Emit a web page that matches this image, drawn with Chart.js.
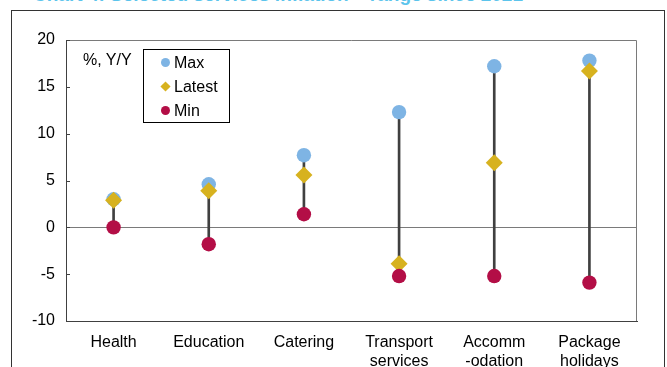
<!DOCTYPE html>
<html lang="en">
<head>
    <meta charset="UTF-8">
    <title>Selected services inflation</title>
    <script src="https://cdn.jsdelivr.net/npm/chart.js"></script>
    <style>
        body {
            margin: 0;
            width: 667px;
            height: 367px;
            overflow: hidden;
            background: #fff;
            font-family: "Liberation Sans", Arial, sans-serif;
            position: relative;
        }
        #title {
            position: absolute;
            left: 33px;
            top: -16px;
            font-size: 19px;
            font-weight: bold;
            color: #5cc4ec;
            white-space: nowrap;
        }
        #frame {
            position: absolute;
            left: 11px;
            top: 10px;
            width: 652px;
            height: 400px;
            border: 1px solid #333;
        }
        #chartBox {
            position: absolute;
            left: 0;
            top: 0;
            width: 667px;
            height: 367px;
        }
        #unit {
            position: absolute;
            left: 83px;
            top: 51px;
            font-size: 16px;
            color: #000;
        }
        #legend {
            position: absolute;
            left: 143px;
            top: 49px;
            width: 85px;
            height: 72px;
            border: 1px solid #000;
            background: #fff;
            font-size: 16px;
        }
        .item {
            position: absolute;
            left: 17px;
            height: 20px;
            line-height: 20px;
        }
        .mark {
            display: inline-block;
            width: 9px;
            height: 9px;
            margin-right: 4px;
            vertical-align: 1px;
        }
    </style>
</head>
<body>
    <div id="title">Chart 4: Selected services inflation &ndash; range since 2021</div>
    <div id="frame"></div>
    <div id="chartBox"><canvas id="rangeChart" width="667" height="367"></canvas></div>
    <div id="unit">%, Y/Y</div>
    <div id="legend"></div>

    <script>
        // categories and values (%, Y/Y)
        const categories = [['Health'], ['Education'], ['Catering'], ['Transport', 'services'], ['Accomm', '-odation'], ['Package', 'holidays']];
        const maxValues = [3.0, 4.6, 7.7, 12.3, 17.2, 17.8];
        const latestValues = [2.9, 3.9, 5.6, -3.9, 6.9, 16.7];
        const minValues = [0.0, -1.8, 1.4, -5.2, -5.2, -5.9];
        const yTicks = [-10, -5, 0, 5, 10, 15, 20];

        const colMax = '#7eb4e4';
        const colLatest = '#d7b21f';
        const colMin = '#b30e46';

        // frame round the plot area + short inward ticks on the y axis
        const framePlugin = {
            id: 'framePlugin',
            beforeDatasetsDraw(chart) {
                const a = chart.chartArea;
                const ctx = chart.ctx;
                const y = chart.scales.y;
                ctx.save();
                ctx.strokeStyle = '#7a7a7a';
                ctx.lineWidth = 1;
                ctx.beginPath();
                ctx.moveTo(a.left, a.top + 0.5);
                ctx.lineTo(a.right - 0.5, a.top + 0.5);
                ctx.lineTo(a.right - 0.5, a.bottom);
                ctx.stroke();
                ctx.strokeStyle = '#404040';
                yTicks.forEach(v => {
                    const py = Math.round(y.getPixelForValue(v)) + 0.5;
                    ctx.beginPath();
                    ctx.moveTo(a.left, py);
                    ctx.lineTo(a.left + 4, py);
                    ctx.stroke();
                });
                ctx.restore();
            }
        };

        const ctx = document.getElementById('rangeChart').getContext('2d');
        const chart = new Chart(ctx, {
            data: {
                labels: categories,
                datasets: [
                    {
                        type: 'line',
                        label: 'Min',
                        data: minValues,
                        showLine: false,
                        pointStyle: 'circle',
                        pointRadius: 7.2,
                        pointBackgroundColor: colMin,
                        pointBorderWidth: 0,
                        order: 0
                    },
                    {
                        type: 'line',
                        label: 'Latest',
                        data: latestValues,
                        showLine: false,
                        pointStyle: 'rectRot',
                        pointRadius: 8.5,
                        pointBackgroundColor: colLatest,
                        pointBorderWidth: 0,
                        order: 1
                    },
                    {
                        type: 'line',
                        label: 'Max',
                        data: maxValues,
                        showLine: false,
                        pointStyle: 'circle',
                        pointRadius: 7.2,
                        pointBackgroundColor: colMax,
                        pointBorderWidth: 0,
                        order: 2
                    },
                    {
                        type: 'bar',
                        label: 'Range',
                        data: minValues.map((m, i) => [m, maxValues[i]]),
                        backgroundColor: '#404040',
                        barThickness: 2,
                        order: 3
                    }
                ]
            },
            options: {
                responsive: false,
                animation: false,
                events: [],
                layout: {
                    padding: { left: 0, right: 30, top: 40, bottom: 0 }
                },
                scales: {
                    x: {
                        offset: true,
                        grid: { display: false },
                        border: { color: '#404040', width: 1 },
                        ticks: {
                            color: '#000',
                            padding: 4,
                            maxRotation: 0,
                            autoSkip: false,
                            font: { family: '"Liberation Sans", Arial', size: 16, lineHeight: 1.2 }
                        },
                        afterFit(scale) { scale.height = 46; }
                    },
                    y: {
                        min: -10,
                        max: 20,
                        afterBuildTicks(scale) { scale.ticks = yTicks.map(v => ({ value: v })); },
                        grid: {
                            drawTicks: false,
                            color: c => (c.tick && c.tick.value === 0) ? '#7a7a7a' : 'rgba(0,0,0,0)',
                            lineWidth: 1
                        },
                        border: { color: '#404040', width: 1 },
                        ticks: {
                            color: '#000',
                            padding: 11,
                            font: { family: '"Liberation Sans", Arial', size: 16 }
                        },
                        afterFit(scale) { scale.width = 66; }
                    }
                },
                plugins: {
                    legend: { display: false },
                    tooltip: { enabled: false }
                }
            },
            plugins: [framePlugin]
        });

        // legend box built from the marker datasets
        const legend = document.getElementById('legend');
        [['Max', colMax, 'circle'], ['Latest', colLatest, 'diamond'], ['Min', colMin, 'circle']].forEach((it, i) => {
            const row = document.createElement('div');
            row.className = 'item';
            row.style.top = (3 + i * 24) + 'px';
            const m = document.createElement('span');
            m.className = 'mark';
            m.style.background = it[1];
            if (it[2] === 'circle') m.style.borderRadius = '50%';
            else { m.style.transform = 'rotate(45deg) scale(0.8)'; }
            row.appendChild(m);
            row.appendChild(document.createTextNode(it[0]));
            legend.appendChild(row);
        });
    </script>
</body>
</html>
